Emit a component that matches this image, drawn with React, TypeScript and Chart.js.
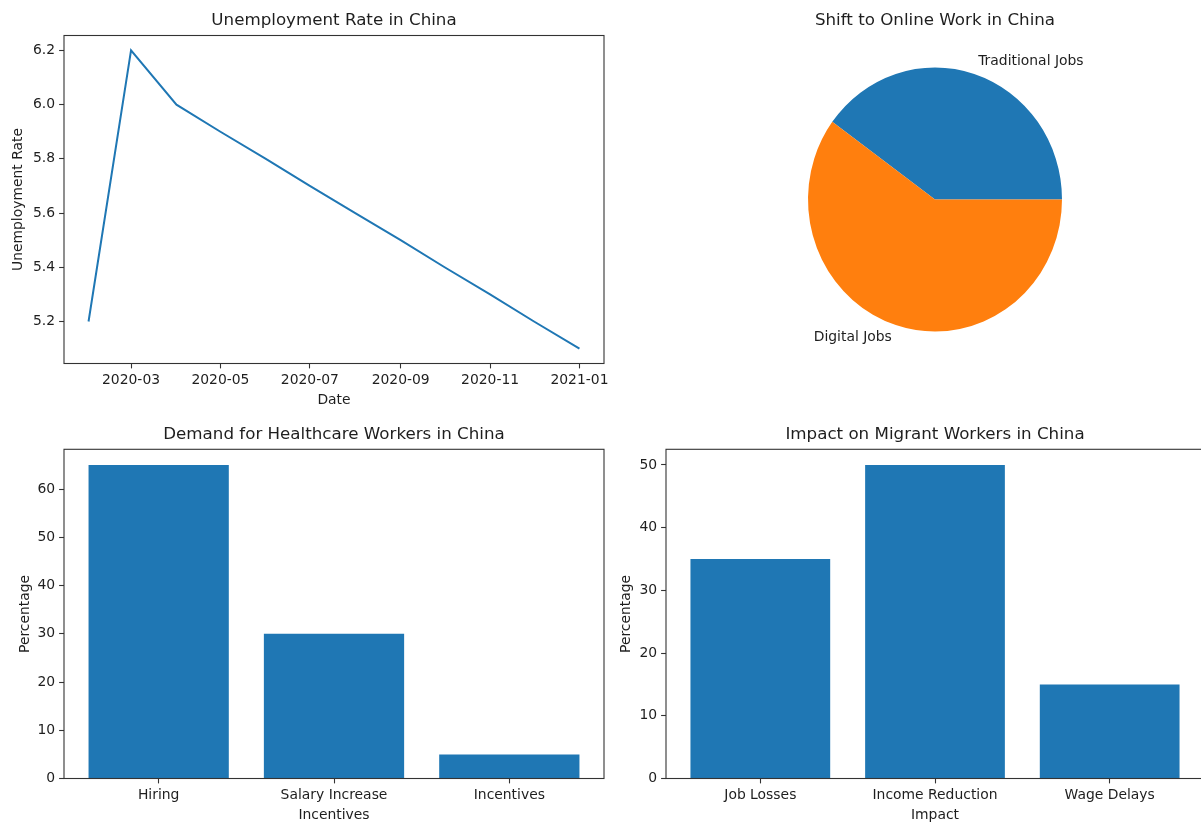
import React, { useEffect, useRef } from "react";
import { Chart, registerables } from "chart.js";

Chart.register(...registerables);

// ---------- data ----------
const unemploymentDates = [
  "2020-02-01", "2020-03-01", "2020-04-01", "2020-05-01", "2020-06-01", "2020-07-01",
  "2020-08-01", "2020-09-01", "2020-10-01", "2020-11-01", "2020-12-01", "2021-01-01",
];
const unemploymentRates = [5.2, 6.2, 6.0, 5.9, 5.8, 5.7, 5.6, 5.5, 5.4, 5.3, 5.2, 5.1];
const unemploymentDateTicks = ["2020-03-01", "2020-05-01", "2020-07-01", "2020-09-01", "2020-11-01", "2021-01-01"];
const unemploymentRateTicks = [5.2, 5.4, 5.6, 5.8, 6.0, 6.2];

const jobTypes = ["Traditional Jobs", "Digital Jobs"];
const jobShares = [40, 60];

const healthcareCategories = ["Hiring", "Salary Increase", "Incentives"];
const healthcareValues = [65, 30, 5];
const healthcareTicks = [0, 10, 20, 30, 40, 50, 60];

const migrantCategories = ["Job Losses", "Income Reduction", "Wage Delays"];
const migrantValues = [35, 50, 15];
const migrantTicks = [0, 10, 20, 30, 40, 50];

// ---------- styles ----------
const FONT_FAMILY = "'DejaVu Sans', 'Liberation Sans', sans-serif";
const TEXT_COLOR = "#1e1e1e";
const SPINE_COLOR = "#333333";
const BLUE = "#1f77b4";
const ORANGE = "#ff7f0e";
const TICK_FONT = { family: FONT_FAMILY, size: 13.9 };
const TITLE_FONT = { family: FONT_FAMILY, size: 16.7 };
const PIE_ASPECT = 1.04;

Chart.defaults.font.family = FONT_FAMILY;
Chart.defaults.color = TEXT_COLOR;

// ---------- helpers ----------
const MS_PER_DAY = 86400000;
const toDay = (iso: string) => Date.parse(iso + "T00:00:00Z") / MS_PER_DAY;
const monthLabel = (day: number) => new Date(Math.round(day) * MS_PER_DAY).toISOString().slice(0, 7);
const withMargins = (lo: number, hi: number, frac = 0.05) => {
  const pad = (hi - lo) * frac;
  return { min: lo - pad, max: hi + pad };
};

// frame around the plotting area (all four sides)
const spinesPlugin = {
  id: "spines",
  afterDatasetsDraw(chart: any) {
    const { ctx, chartArea: a } = chart;
    ctx.save();
    ctx.strokeStyle = SPINE_COLOR;
    ctx.lineWidth = 1.1;
    ctx.strokeRect(a.left, a.top, a.right - a.left, a.bottom - a.top);
    ctx.restore();
  },
};

const tickGrid = {
  display: true,
  offset: false,
  drawOnChartArea: false,
  drawTicks: true,
  tickLength: 4.9,
  tickWidth: 1.1,
  tickColor: SPINE_COLOR,
};

function xAxis(o: {
  min: number; max: number; ticks: number[]; label: string;
  format: (v: number) => string; height: number; titlePad: number;
}) {
  return {
    type: "linear",
    position: "bottom",
    offset: false,
    min: o.min,
    max: o.max,
    grid: tickGrid,
    border: { display: false },
    afterBuildTicks: (s: any) => { s.ticks = o.ticks.map((v) => ({ value: v })); },
    afterFit: (s: any) => { s.height = o.height; },
    ticks: {
      color: TEXT_COLOR, font: TICK_FONT, padding: 3.3,
      autoSkip: false, maxRotation: 0, minRotation: 0,
      callback: (v: any) => o.format(Number(v)),
    },
    title: { display: true, text: o.label, color: TEXT_COLOR, font: TICK_FONT, padding: { top: 0, bottom: o.titlePad } },
  };
}

function yAxis(o: {
  min: number; max: number; ticks: number[]; label: string;
  format: (v: number) => string; width: number; titlePad: number;
}) {
  return {
    type: "linear",
    position: "left",
    min: o.min,
    max: o.max,
    grid: tickGrid,
    border: { display: false },
    afterBuildTicks: (s: any) => { s.ticks = o.ticks.map((v) => ({ value: v })); },
    afterFit: (s: any) => { s.width = o.width; },
    ticks: { color: TEXT_COLOR, font: TICK_FONT, padding: 4, autoSkip: false, callback: (v: any) => o.format(Number(v)) },
    title: { display: true, text: o.label, color: TEXT_COLOR, font: TICK_FONT, padding: { top: o.titlePad, bottom: 0 } },
  };
}

const baseOptions = {
  responsive: true,
  maintainAspectRatio: false,
  animation: false,
  devicePixelRatio: 1,
  events: [],
};

// title box spans only the plotting area, so the text is centred over it
function titleOpts(text: string, top: number, bottom: number) {
  return {
    display: true, text, fullSize: false, color: TEXT_COLOR,
    font: { ...TITLE_FONT, weight: "normal" }, padding: { top, bottom },
  };
}

// ---------- chart configs ----------
function unemploymentConfig() {
  const days = unemploymentDates.map(toDay);
  const xr = withMargins(days[0], days[days.length - 1]);
  const yr = withMargins(Math.min(...unemploymentRates), Math.max(...unemploymentRates));
  return {
    type: "line",
    data: {
      datasets: [{
        data: days.map((d, i) => ({ x: d, y: unemploymentRates[i] })),
        borderColor: BLUE, borderWidth: 2, pointRadius: 0, tension: 0, fill: false,
      }],
    },
    options: {
      ...baseOptions,
      layout: { padding: { left: 0, top: 0, right: 16, bottom: 0 } },
      plugins: {
        legend: { display: false }, tooltip: { enabled: false },
        title: titleOpts("Unemployment Rate in China", 11, 4.46),
      },
      scales: {
        x: xAxis({ ...xr, ticks: unemploymentDateTicks.map(toDay), label: "Date", format: monthLabel, height: 56.5, titlePad: 11.2 }),
        y: yAxis({ ...yr, ticks: unemploymentRateTicks, label: "Unemployment Rate", format: (v) => v.toFixed(1), width: 64, titlePad: 10 }),
      },
    },
    plugins: [spinesPlugin],
  };
}

function barConfig(title: string, categories: string[], values: number[], ticks: number[], xLabel: string, yTitlePad: number) {
  const xr = withMargins(-0.4, categories.length - 1 + 0.4);
  const ymax = Math.max(...values) * 1.05;
  return {
    type: "bar",
    data: {
      datasets: [{
        data: values.map((v, i) => ({ x: i, y: v })),
        backgroundColor: BLUE, borderWidth: 0,
        barPercentage: 0.8, categoryPercentage: 1.0,
      }],
    },
    options: {
      ...baseOptions,
      layout: { padding: { left: 0, top: 0, right: 16, bottom: 0 } },
      plugins: {
        legend: { display: false }, tooltip: { enabled: false },
        title: titleOpts(title, 4.7, 4.56),
      },
      scales: {
        x: xAxis({ ...xr, ticks: categories.map((_, i) => i), label: xLabel, format: (v) => categories[Math.round(v)] ?? "", height: 46.5, titlePad: 1 }),
        y: yAxis({ min: 0, max: ymax, ticks, label: "Percentage", format: (v) => String(v), width: 64, titlePad: yTitlePad }),
      },
    },
    plugins: [spinesPlugin],
  };
}

// slightly taller-than-wide pie, scaled about its centre
const pieAspectPlugin = {
  id: "pieAspect",
  beforeDatasetsDraw(chart: any) {
    const arc = chart.getDatasetMeta(0).data[0];
    const { ctx } = chart;
    ctx.save();
    ctx.translate(arc.x, arc.y);
    ctx.scale(1, PIE_ASPECT);
    ctx.translate(-arc.x, -arc.y);
  },
  afterDatasetsDraw(chart: any) {
    chart.ctx.restore();
  },
};

// wedge labels placed just outside the rim
const pieLabelsPlugin = {
  id: "pieLabels",
  afterDraw(chart: any) {
    const { ctx } = chart;
    const arcs = chart.getDatasetMeta(0).data;
    const labels = chart.data.labels as string[];
    ctx.save();
    ctx.font = `${TICK_FONT.size}px ${FONT_FAMILY}`;
    ctx.fillStyle = TEXT_COLOR;
    ctx.textBaseline = "middle";
    arcs.forEach((arc: any, i: number) => {
      const { x, y, startAngle, endAngle, outerRadius } = arc.getProps(["x", "y", "startAngle", "endAngle", "outerRadius"], true);
      const mid = (startAngle + endAngle) / 2;
      const r = outerRadius * 1.1;
      ctx.textAlign = Math.cos(mid) >= 0 ? "left" : "right";
      ctx.fillText(labels[i], x + r * Math.cos(mid), y + r * Math.sin(mid) * PIE_ASPECT);
    });
    ctx.restore();
  },
};

function jobsConfig() {
  const total = jobShares.reduce((a, b) => a + b, 0);
  return {
    type: "pie",
    data: {
      labels: jobTypes,
      datasets: [{ data: jobShares, backgroundColor: [BLUE, ORANGE], borderWidth: 0, hoverOffset: 0 }],
    },
    options: {
      ...baseOptions,
      // first wedge ends at 3 o'clock, wedges run counter-clockwise
      rotation: 90 - (360 * jobShares[0]) / total,
      layout: { padding: { left: 188, top: 0, right: 139, bottom: 56.5 } },
      plugins: {
        legend: { display: false }, tooltip: { enabled: false },
        title: titleOpts("Shift to Online Work in China", 11, 4.46),
      },
    },
    plugins: [pieAspectPlugin, pieLabelsPlugin],
  };
}

// ---------- components ----------
type Box = { left: number; top: number; width: number; height: number };

function ChartCanvas({ box, make }: { box: Box; make: () => any }) {
  const ref = useRef<HTMLCanvasElement>(null);
  useEffect(() => {
    const chart = new Chart(ref.current as HTMLCanvasElement, make());
    return () => chart.destroy();
  }, []);
  return (
    <div style={{ position: "absolute", left: box.left, top: box.top, width: box.width, height: box.height }}>
      <canvas ref={ref} style={{ display: "block" }} />
    </div>
  );
}

export default function App() {
  return (
    <div
      style={{
        position: "fixed", left: 0, top: 0, width: 1201, height: 825,
        overflow: "hidden", background: "#ffffff",
      }}
    >
      <ChartCanvas box={{ left: 0, top: 0, width: 620, height: 420 }} make={unemploymentConfig} />
      <ChartCanvas box={{ left: 620, top: 0, width: 581, height: 420 }} make={jobsConfig} />
      <ChartCanvas
        box={{ left: 0, top: 420, width: 620, height: 405 }}
        make={() => barConfig("Demand for Healthcare Workers in China", healthcareCategories, healthcareValues, healthcareTicks, "Incentives", 16.7)}
      />
      <ChartCanvas
        box={{ left: 602, top: 420, width: 618, height: 405 }}
        make={() => barConfig("Impact on Migrant Workers in China", migrantCategories, migrantValues, migrantTicks, "Impact", 15.7)}
      />
    </div>
  );
}
